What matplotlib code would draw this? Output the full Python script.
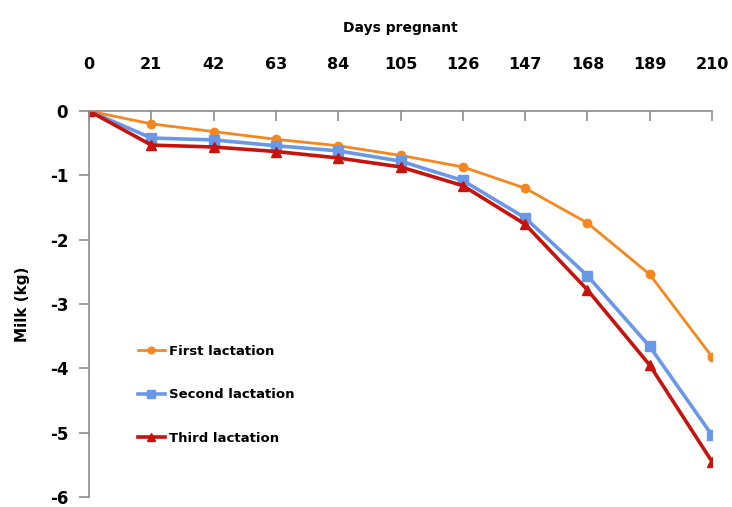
import matplotlib
matplotlib.use("Agg")
import matplotlib.pyplot as plt

days = [0, 21, 42, 63, 84, 105, 126, 147, 168, 189, 210]
first = [0, -0.20, -0.32, -0.44, -0.54, -0.69, -0.87, -1.20, -1.74, -2.54, -3.82]
second = [0, -0.42, -0.45, -0.54, -0.62, -0.78, -1.08, -1.66, -2.56, -3.66, -5.04]
third = [0, -0.53, -0.56, -0.63, -0.73, -0.87, -1.16, -1.76, -2.78, -3.95, -5.45]
yticks = [0, -1, -2, -3, -4, -5, -6]

plt.rcParams['font.family'] = ['DejaVu Sans']
fig = plt.figure(figsize=(7.32, 5.07), dpi=100)
ax = fig.add_axes([0.1216, 0.0197, 0.8511, 0.7614])

ax.plot(days, first, color='#F7871C', lw=2.0, marker='o', ms=6, label='First lactation')
ax.plot(days, second, color='#6A98E8', lw=2.6, marker='s', ms=7, label='Second lactation')
ax.plot(days, third, color='#C8120C', lw=2.6, marker='^', ms=7, label='Third lactation')

ax.set_xlim(0, 210)
ax.set_ylim(-6, 0)
ax.set_xticks(days)
ax.set_yticks(yticks)
ax.xaxis.tick_top()
ax.xaxis.set_label_position('top')
ax.set_xlabel('Days pregnant', fontsize=10, fontweight='bold', labelpad=18)
ax.set_ylabel('Milk (kg)', fontsize=11, fontweight='bold', labelpad=14)

for s in ['right', 'bottom']:
    ax.spines[s].set_visible(False)
for s in ['left', 'top']:
    ax.spines[s].set_color('#8C8C8C')
    ax.spines[s].set_linewidth(1.2)
ax.tick_params(axis='x', direction='in', length=7, color='#8C8C8C', width=1.2, pad=28, labelsize=11.5)
ax.tick_params(axis='y', direction='out', length=7, color='#8C8C8C', width=1.2, pad=8, labelsize=12)
for lab in ax.get_xticklabels() + ax.get_yticklabels():
    lab.set_fontweight('bold')
ax.set_yticklabels([str(v) for v in yticks])

leg = ax.legend(loc='upper left', bbox_to_anchor=(0.06, 0.425), frameon=False,
                prop={'weight': 'bold', 'size': 9.5}, labelspacing=2.3,
                handlelength=2.0, handletextpad=0.3, markerscale=0.8)

fig.savefig('out.png', dpi=100)
